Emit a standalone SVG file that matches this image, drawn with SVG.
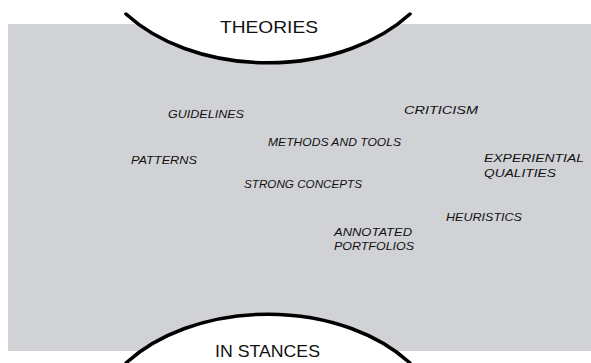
<svg xmlns="http://www.w3.org/2000/svg" width="591" height="363" viewBox="0 0 591 363">
<style>
.lbl{font-family:"Liberation Sans",Arial,sans-serif;font-size:11px;fill:#111;font-style:italic}
.big{font-family:"Liberation Sans",Arial,sans-serif;font-size:17px;fill:#111}
.cut{fill:#fff}
.arc{fill:none;stroke:#000;stroke-width:3.5;stroke-linecap:round}
</style>
<rect x="8" y="24" width="583" height="327" fill="#d1d2d6"/>
<g id="connectors"></g>
<g id="theories">
<path class="cut" d="M126,14 A178,123 0 0 0 410,14 Z"/>
<path class="arc" d="M126,14 A178,123 0 0 0 410,14"/>
<text class="big" x="220" y="33" textLength="98" lengthAdjust="spacingAndGlyphs">THEORIES</text>
</g>
<g id="instances">
<path class="cut" d="M126,363 A178,123 0 0 1 410,363 Z"/>
<path class="arc" d="M126,363 A178,123 0 0 1 410,363"/>
<text class="big" x="215" y="357" textLength="105" lengthAdjust="spacingAndGlyphs">IN STANCES</text>
</g>
<g id="guidelines"><text class="lbl" x="168" y="118" textLength="76" lengthAdjust="spacingAndGlyphs">GUIDELINES</text></g>
<g id="criticism"><text class="lbl" x="404" y="114" textLength="74" lengthAdjust="spacingAndGlyphs">CRITICISM</text></g>
<g id="methods"><text class="lbl" x="268" y="146" textLength="133" lengthAdjust="spacingAndGlyphs">METHODS AND TOOLS</text></g>
<g id="patterns"><text class="lbl" x="131" y="164" textLength="66" lengthAdjust="spacingAndGlyphs">PATTERNS</text></g>
<g id="experiential"><text class="lbl" x="484" y="162" textLength="100" lengthAdjust="spacingAndGlyphs">EXPERIENTIAL</text><text class="lbl" x="484" y="177" textLength="72" lengthAdjust="spacingAndGlyphs">QUALITIES</text></g>
<g id="strong"><text class="lbl" x="244" y="188" textLength="118" lengthAdjust="spacingAndGlyphs">STRONG CONCEPTS</text></g>
<g id="heuristics"><text class="lbl" x="446" y="221" textLength="76" lengthAdjust="spacingAndGlyphs">HEURISTICS</text></g>
<g id="annotated"><text class="lbl" x="334" y="236" textLength="78" lengthAdjust="spacingAndGlyphs">ANNOTATED</text><text class="lbl" x="334" y="250" textLength="80" lengthAdjust="spacingAndGlyphs">PORTFOLIOS</text></g>
</svg>
